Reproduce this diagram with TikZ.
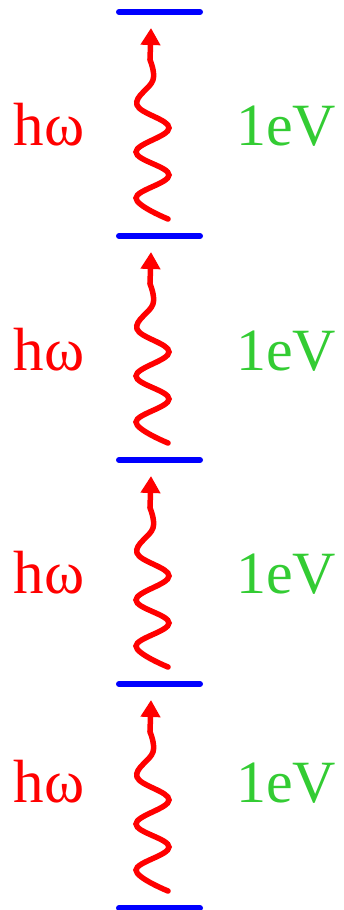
\documentclass[tikz,border=0pt]{standalone}
\usepackage{fontspec}
\setmainfont{Liberation Serif}
\usetikzlibrary{arrows.meta}
\definecolor{lvlblue}{RGB}{0,0,255}
\definecolor{phred}{RGB}{255,0,0}
\definecolor{evgreen}{RGB}{51,204,51}
\tikzset{
  level/.style={draw=lvlblue, line width=6pt, line cap=round},
  photon/.style={draw=phred, line width=5.5pt, line cap=round},
  photonhead/.style={draw=phred, line width=5.5pt, -{Triangle[width=19pt,length=17pt]}},
  hwlabel/.style={text=phred, font=\fontsize{61}{66}\selectfont, inner sep=0pt, anchor=base},
  evlabel/.style={text=evgreen, font=\fontsize{60}{66}\selectfont, inner sep=0pt, anchor=base},
}
\begin{document}
\begin{tikzpicture}[x=1pt,y=-1pt]
\useasboundingbox (0,0) rectangle (343,910);
\foreach \k in {0,1,2,3,4}{
  \coordinate (L\k a) at (119,12+224*\k);
  \coordinate (L\k b) at (200,12+224*\k);
  \draw[level] (L\k a) -- (L\k b);
}
\foreach \k/\b in {0/145,1/146,2/145,3/130}{
  \begin{scope}[yshift=-224*\k]
  \coordinate (W\k s) at (150,60);
  \coordinate (W\k t) at (151,28);
  \draw[photon] plot[smooth, tension=0.65] coordinates {(168,219) (136,198) (169,175) (136,152) (169,128) (137,105) (153,80) (150,60)};
  \draw[photonhead] (W\k s) -- (W\k t);
  \node[hwlabel] (hw\k) at (49,\b) {hω};
  \node[evlabel] (ev\k) at (286,\b) {1eV};
  \end{scope}
}
\end{tikzpicture}
\end{document}
